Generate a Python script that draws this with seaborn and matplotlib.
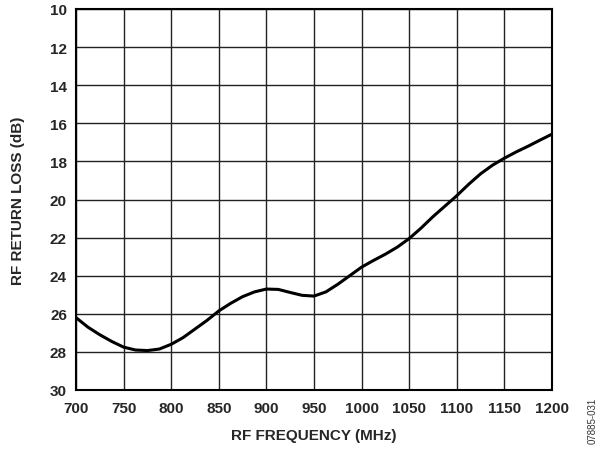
import matplotlib
matplotlib.use("Agg")
import pandas as pd
import matplotlib.pyplot as plt
import seaborn as sns

# Values (every 12.5 MHz)
freq_mhz = [700, 712.5, 725, 737.5, 750, 762.5, 775, 787.5, 800, 812.5, 825,
            837.5, 850, 862.5, 875, 887.5, 900, 912.5, 925, 937.5, 950,
            962.5, 975, 987.5, 1000, 1012.5, 1025, 1037.5, 1050, 1062.5, 1075,
            1087.5, 1100, 1112.5, 1125, 1137.5, 1150, 1162.5, 1175, 1187.5, 1200]
return_loss_db = [26.2, 26.7, 27.1, 27.45, 27.75, 27.9, 27.93, 27.85, 27.6, 27.25, 26.8,
                  26.35, 25.85, 25.45, 25.1, 24.85, 24.7, 24.72, 24.88, 25.03, 25.07,
                  24.85, 24.45, 24.0, 23.55, 23.2, 22.87, 22.5, 22.05, 21.5, 20.9,
                  20.35, 19.8, 19.2, 18.65, 18.2, 17.83, 17.5, 17.2, 16.88, 16.57]

x_ticks = [700, 750, 800, 850, 900, 950, 1000, 1050, 1100, 1150, 1200]
y_ticks = [10, 12, 14, 16, 18, 20, 22, 24, 26, 28, 30]

df = pd.DataFrame({"freq": freq_mhz, "rl": return_loss_db})

sns.set_style("white")
plt.rcParams["font.family"] = ["Liberation Sans", "DejaVu Sans"]

fig = plt.figure(figsize=(6.01, 4.52), dpi=100)
ax = fig.add_axes([76 / 601, 1 - 391 / 452, 476 / 601, 381 / 452])

sns.lineplot(x="freq", y="rl", data=df, ax=ax, color="black", linewidth=2.2)

ax.set_xlim(700, 1200)
ax.set_ylim(30, 10)
ax.set_xticks(x_ticks)
ax.set_yticks(y_ticks)
ax.set_xticklabels([str(t) for t in x_ticks], fontsize=11, fontweight="bold")
ax.set_yticklabels([str(t) for t in y_ticks], fontsize=11, fontweight="bold")
ax.tick_params(axis="x", length=0, pad=8)
ax.tick_params(axis="y", length=0, pad=6.5)
ax.grid(True, color="#222222", linewidth=1.0)
for s in ax.spines.values():
    s.set_visible(True)
    s.set_color("black")
    s.set_linewidth(1.5)

ax.set_xlabel("RF FREQUENCY (MHz)", fontsize=11, fontweight="bold", va="center")
ax.set_ylabel("RF RETURN LOSS (dB)", fontsize=11, fontweight="bold", va="center")
ax.xaxis.set_label_coords(0.5, (391 - 436) / 381)
ax.yaxis.set_label_coords((18 - 76) / 476, 0.5)

fig.text(593 / 601, 1 - 421 / 452, "07885-031", rotation=90, fontsize=7,
         ha="center", va="center", color="#333333")

fig.savefig("out.png", dpi=100)
